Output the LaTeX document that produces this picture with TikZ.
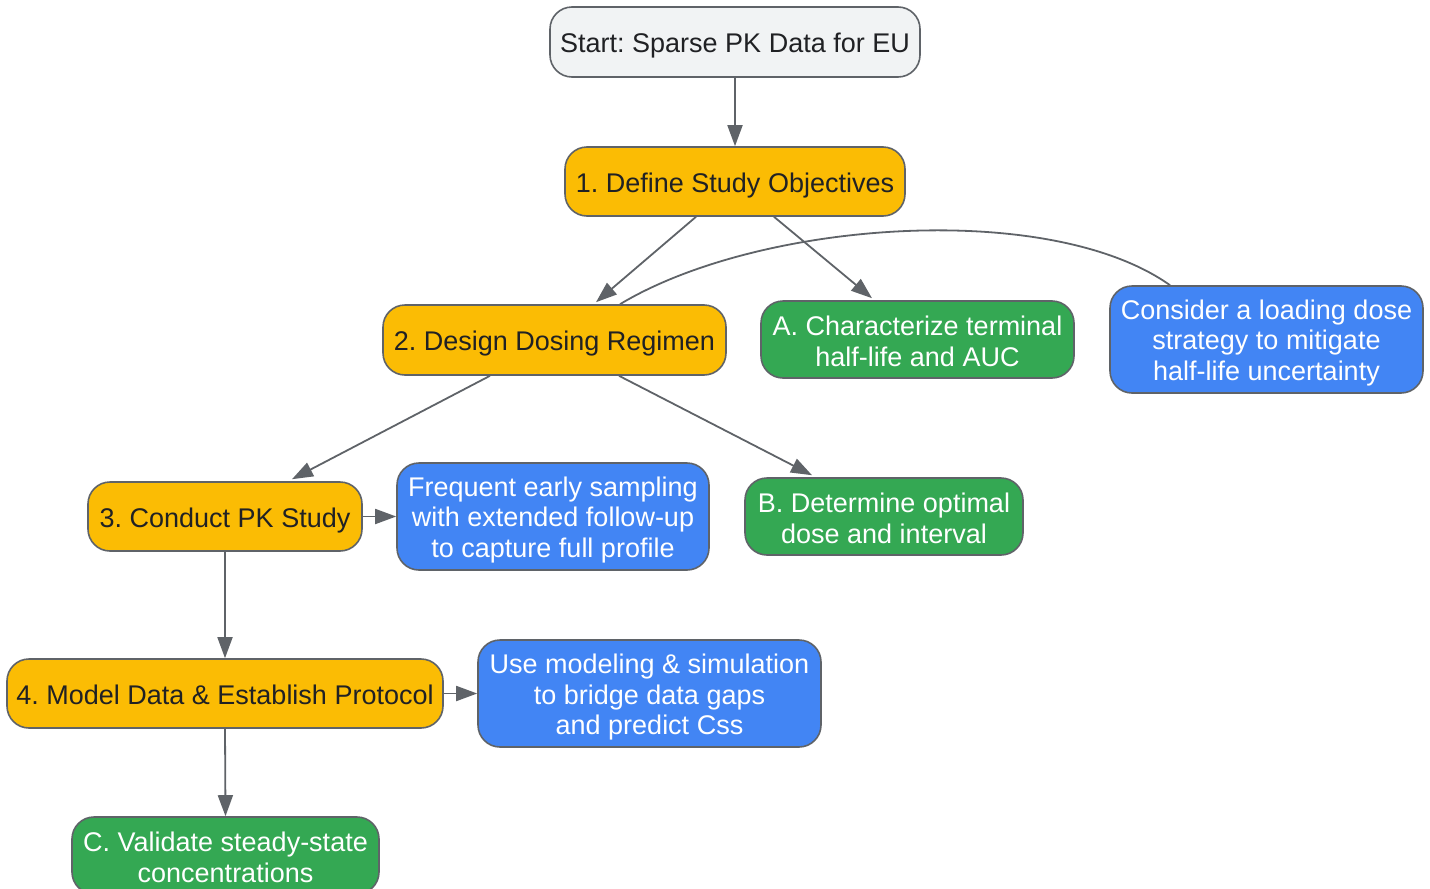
\documentclass[tikz,border=0pt]{standalone}
\usepackage{fontspec}
\setmainfont{Liberation Sans}
\frenchspacing
\usetikzlibrary{arrows.meta,calc}
\definecolor{ylw}{HTML}{FBBC04}
\definecolor{grn}{HTML}{34A853}
\definecolor{blu}{HTML}{4285F4}
\definecolor{lgr}{HTML}{F1F3F4}
\definecolor{bord}{HTML}{5F6368}
\definecolor{txt}{HTML}{202124}
\begin{document}
\begin{tikzpicture}[x=1pt,y=-1pt,
  box/.style={draw=bord,line width=1.6pt,rounded corners=22pt,inner sep=0pt},
  startbox/.style={box,fill=lgr},
  stepbox/.style={box,fill=ylw},
  resbox/.style={box,fill=grn},
  notebox/.style={box,fill=blu},
  lbl/.style={align=center,inner sep=0pt,font=\fontsize{27}{30.5}\selectfont},
  dark/.style={lbl,text=txt},
  light/.style={lbl,text=white},
  conn/.style={draw=bord,line width=1.8pt,-{Triangle[length=21pt,width=15pt]}},
  link/.style={draw=bord,line width=1.8pt}]
\useasboundingbox (0,0) rectangle (1430,889);
\node[startbox,minimum width=370pt,minimum height=70pt] (s) at (735,42) {};
\node[dark,yshift=-4pt] (st) at (s) {Start: Sparse PK Data for EU};
\node[stepbox,minimum width=340pt,minimum height=69pt] (n1) at (735,181.5) {};
\node[dark,yshift=-4pt] (n1t) at (n1) {1. Define Study Objectives};
\node[stepbox,minimum width=343pt,minimum height=70pt] (n2) at (554.5,340) {};
\node[dark,yshift=-4pt] (n2t) at (n2) {2. Design Dosing Regimen};
\node[resbox,minimum width=313pt,minimum height=77pt] (a) at (917.5,339.5) {};
\node[light,yshift=-2pt] (at) at (a) {A. Characterize terminal\\half-life and AUC};
\node[notebox,minimum width=313pt,minimum height=107pt] (cons) at (1266.5,339.5) {};
\node[light,yshift=-3.5pt] (const) at (cons) {Consider a loading dose\\strategy to mitigate\\half-life uncertainty};
\node[stepbox,minimum width=274pt,minimum height=69pt] (n3) at (225,516.5) {};
\node[dark,yshift=-4pt] (n3t) at (n3) {3. Conduct PK Study};
\node[notebox,minimum width=312pt,minimum height=107pt] (freq) at (553,516.5) {};
\node[light,yshift=-3.5pt] (freqt) at (freq) {Frequent early sampling\\with extended follow-up\\to capture full profile};
\node[resbox,minimum width=278pt,minimum height=77pt] (b) at (884,516.5) {};
\node[light,yshift=-2pt] (bt) at (b) {B. Determine optimal\\dose and interval};
\node[stepbox,minimum width=436pt,minimum height=69pt] (n4) at (225,693.5) {};
\node[dark,yshift=-4pt] (n4t) at (n4) {4. Model Data \& Establish Protocol\vphantom{y}};
\node[notebox,minimum width=343pt,minimum height=107pt] (use) at (649.5,693.5) {};
\node[light,yshift=-4pt] (uset) at (use) {Use modeling \& simulation\\to bridge data gaps\\and predict Css};
\node[resbox,minimum width=307pt,minimum height=77pt] (c) at (225.5,855.5) {};
\node[light,yshift=-2pt] (ct) at (c) {C. Validate steady-state\\concentrations};
\draw[conn] (s.south) -- (n1.north);
\draw[conn] ($(n1.south)+(-39,0)$) -- ($(n2.north)+(41.5,-2)$);
\draw[conn] ($(n1.south)+(39,0)$) -- ($(a.north)+(-45.5,-2)$);
\draw[link] ($(n2.north)+(65.5,0)$) .. controls (760,220) and (1050,200) .. ($(cons.north)+(-96.5,0)$);
\draw[conn] ($(n2.south)+(-64.5,0)$) -- ($(n3.north)+(67,-2)$);
\draw[conn] ($(n2.south)+(64.5,0)$) -- ($(b.north)+(-72,-2)$);
\draw[conn] (n3.east) -- (freq.west);
\draw[conn] (n3.south) -- (n4.north);
\draw[conn] (n4.east) -- (use.west);
\draw[conn] (n4.south) -- (c.north);
\end{tikzpicture}
\end{document}
